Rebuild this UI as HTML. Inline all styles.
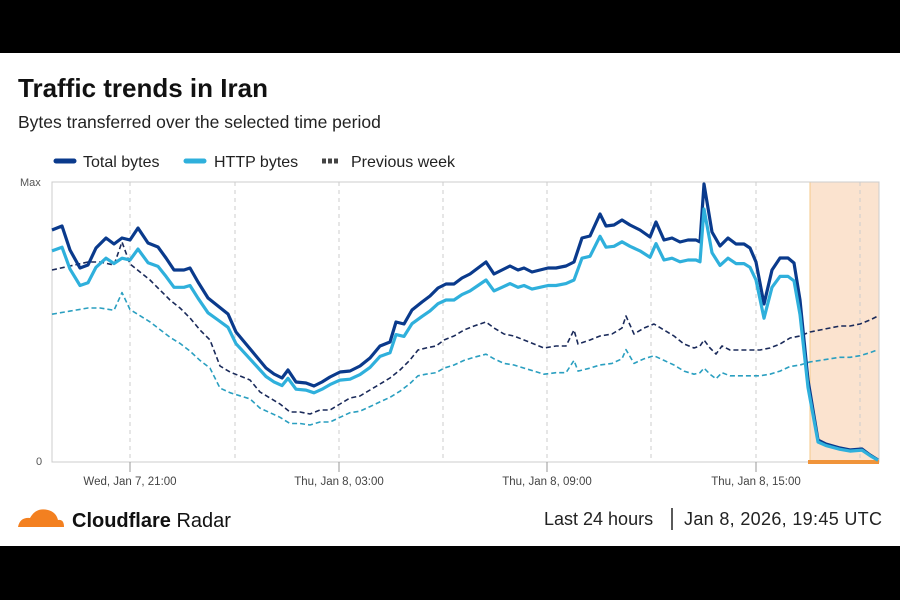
<!DOCTYPE html>
<html><head><meta charset="utf-8"><style>
html,body{margin:0;padding:0;background:#000;}
#w{position:relative;width:900px;height:600px;background:#000;overflow:hidden;font-family:"Liberation Sans",sans-serif;}
#c{position:absolute;left:0;top:53px;width:900px;height:493px;background:#fff;}
</style></head><body><div id="w"><div id="c"></div>
<svg id="s" width="900" height="600" style="position:absolute;left:0;top:0" xmlns="http://www.w3.org/2000/svg" font-family="Liberation Sans, sans-serif">
<text x="18" y="97" font-size="26" font-weight="bold" fill="#111">Traffic trends in Iran</text>
<text x="18" y="128" font-size="17.5" fill="#222">Bytes transferred over the selected time period</text>
<line x1="56" y1="161" x2="74" y2="161" stroke="#0a3a8c" stroke-width="5" stroke-linecap="round"/>
<text x="83" y="167" font-size="16" fill="#222">Total bytes</text>
<line x1="186" y1="161" x2="204" y2="161" stroke="#2fb0dc" stroke-width="5" stroke-linecap="round"/>
<text x="214" y="167" font-size="16" fill="#222">HTTP bytes</text>
<line x1="322" y1="161" x2="340" y2="161" stroke="#444" stroke-width="5" stroke-dasharray="4,2"/>
<text x="351" y="167" font-size="16" fill="#222">Previous week</text>
<text x="20" y="186" font-size="11" fill="#555">Max</text>
<text x="36" y="465" font-size="11" fill="#555">0</text>
<rect x="810" y="182" width="69" height="280" fill="#fbe3cf"/>
<line x1="810" y1="182" x2="810" y2="462" stroke="#f5c88a" stroke-width="1"/>
<g stroke="#ccc" stroke-dasharray="4,4" stroke-width="1">
<line x1="130" y1="182" x2="130" y2="462"/><line x1="235" y1="182" x2="235" y2="462"/>
<line x1="339" y1="182" x2="339" y2="462"/><line x1="443" y1="182" x2="443" y2="462"/>
<line x1="547" y1="182" x2="547" y2="462"/><line x1="651" y1="182" x2="651" y2="462"/>
<line x1="756" y1="182" x2="756" y2="462"/><line x1="860" y1="182" x2="860" y2="462"/>
</g>
<rect x="52" y="182" width="827" height="280" fill="none" stroke="#ccc"/>
<g stroke="#999"><line x1="130" y1="462" x2="130" y2="472"/><line x1="339" y1="462" x2="339" y2="472"/><line x1="547" y1="462" x2="547" y2="472"/><line x1="756" y1="462" x2="756" y2="472"/></g>
<rect x="808" y="460" width="71" height="4" fill="#f0943a"/>
<g font-size="11.5" fill="#444" text-anchor="middle">
<text x="130" y="485">Wed, Jan 7, 21:00</text><text x="339" y="485">Thu, Jan 8, 03:00</text>
<text x="547" y="485">Thu, Jan 8, 09:00</text><text x="756" y="485">Thu, Jan 8, 15:00</text></g>
<g id="lines"></g>
<path d="M18 527 Q20 517 30 518 Q36 507 48 510 Q56 512 58 520 Q64 519 64 527 Z" fill="#f38020"/>
<text x="72" y="527" font-size="20" fill="#111"><tspan font-weight="bold">Cloudflare</tspan> Radar</text>
<text x="544" y="525" font-size="18" fill="#222">Last 24 hours</text>
<line x1="672" y1="508" x2="672" y2="530" stroke="#222" stroke-width="1.5"/>
<text x="684" y="525" font-size="18" fill="#222" textLength="198">Jan 8, 2026, 19:45 UTC</text>
</svg></div>
<script>
var T=[52,230,62,226,70,250,80,268,88,265,96,248,106,238,114,244,122,238,130,240,138,228,148,243,158,247,166,258,174,270,184,270,190,268,198,282,208,298,218,306,228,314,236,332,246,344,256,356,266,368,274,374,282,378,288,370,296,382,306,383,314,386,322,382,330,377,340,372,350,371,360,366,370,358,380,346,390,342,396,322,404,324,412,310,422,302,430,296,438,288,446,284,454,284,462,278,470,274,478,268,486,262,494,274,502,270,510,266,518,270,524,268,532,272,540,270,548,268,556,268,566,266,574,262,582,238,590,236,600,214,606,226,614,225,622,220,630,225,640,230,650,237,656,222,664,240,672,238,680,242,688,240,696,240,700,242,704,184,712,232,720,246,728,238,736,244,744,244,750,248,756,262,764,304,772,270,780,258,788,258,794,263,800,300,808,380,818,440,826,444,840,448,850,450,862,449,870,455,878,460];
var P=[52,270,70,266,88,262,100,262,114,265,122,242,130,264,140,272,150,280,160,290,170,300,180,308,190,318,200,330,210,340,220,366,230,372,240,376,250,380,260,392,270,398,280,404,290,412,300,412,310,414,320,410,330,410,340,404,350,398,360,396,370,390,380,384,390,378,400,370,410,360,418,350,426,348,436,346,444,340,454,336,464,330,474,326,486,322,494,328,504,334,514,336,524,340,534,344,544,348,556,346,566,346,574,330,578,344,590,340,600,336,612,334,622,328,626,316,634,334,644,328,654,324,664,330,674,336,684,344,694,348,700,346,704,340,710,348,716,354,722,346,730,350,740,350,750,350,760,350,770,348,780,344,790,338,800,336,810,332,820,330,830,328,840,326,850,326,860,324,870,320,878,316];
function pts(a,r){var s=[];for(var i=0;i<a.length;i+=2){s.push(a[i]+','+(462-r*(462-a[i+1])).toFixed(1));}return s.join(' ');}
var g=document.getElementById('lines'),ns='http://www.w3.org/2000/svg';
function pl(a,r,c,w,d){var p=document.createElementNS(ns,'polyline');p.setAttribute('points',pts(a,r));p.setAttribute('fill','none');p.setAttribute('stroke',c);p.setAttribute('stroke-width',w);p.setAttribute('stroke-linejoin','round');if(d)p.setAttribute('stroke-dasharray',d);g.appendChild(p);}
pl(P,0.77,'#2a9fc0',1.6,'5,3');
pl(P,1,'#1a2a5a',1.6,'5,3');
pl(T,1,'#0a3a8c',3.2);
pl(T,0.91,'#2fb0dc',3.2);
</script></body></html>
